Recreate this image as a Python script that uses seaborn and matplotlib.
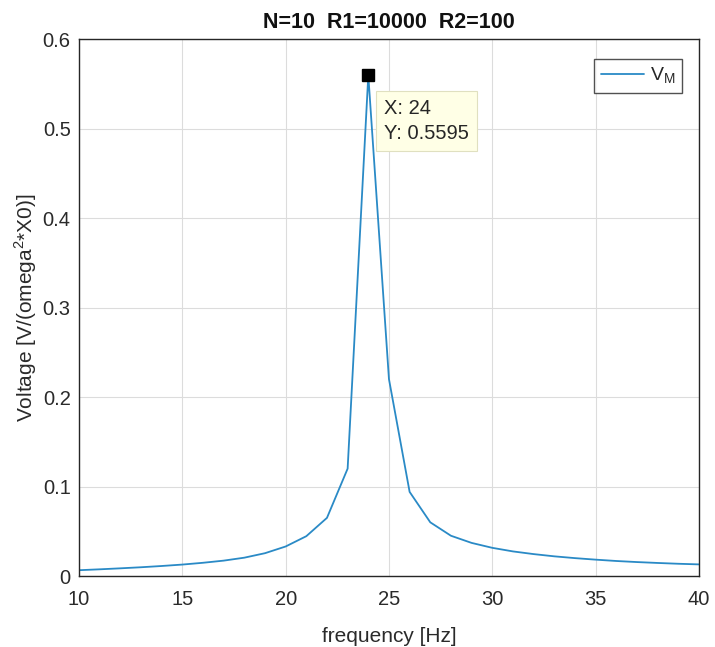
import matplotlib
matplotlib.use("Agg")
import matplotlib.pyplot as plt
import seaborn as sns
import pandas as pd

freq = [10, 11, 12, 13, 14, 15, 16, 17, 18, 19, 20, 21, 22, 23, 24, 25,
        26, 27, 28, 29, 30, 31, 32, 33, 34, 35, 36, 37, 38, 39, 40]
volt = [0.0065, 0.0075, 0.0086, 0.0098, 0.0112, 0.0128, 0.0148, 0.0172, 0.0205,
        0.0255, 0.0330, 0.0445, 0.0650, 0.1200, 0.5595, 0.2200, 0.0940, 0.0600,
        0.0450, 0.0370, 0.0315, 0.0275, 0.0245, 0.0220, 0.0200, 0.0183, 0.0168,
        0.0156, 0.0146, 0.0137, 0.0130]
tip_x = 24
tip_y = 0.5595

sns.set_theme(style="whitegrid")
plt.rcParams['font.family'] = ['Liberation Sans', 'DejaVu Sans']
plt.rcParams['mathtext.fontset'] = 'custom'
plt.rcParams['mathtext.rm'] = 'Liberation Sans'

df = pd.DataFrame({"freq": freq, "volt": volt})

fig = plt.figure(figsize=(7.15, 6.47), dpi=100)
ax = fig.add_axes([0.1105, 0.1097, 0.867, 0.830])
sns.lineplot(data=df, x="freq", y="volt", ax=ax, color="#2a8ac6", linewidth=1.3,
             label=r"V$_\mathrm{M}$")

ax.set_xlim(10, 40)
ax.set_ylim(0, 0.6)
ax.set_xticks([10, 15, 20, 25, 30, 35, 40])
ax.set_yticks([0, 0.1, 0.2, 0.3, 0.4, 0.5, 0.6])
ax.set_yticklabels(["0", "0.1", "0.2", "0.3", "0.4", "0.5", "0.6"])
ax.tick_params(direction="in", length=5, width=1, colors="#262626", labelsize=14.5,
               labelcolor="#2a2a2a")
ax.tick_params(axis='x', pad=10)
ax.tick_params(axis='y', pad=6)
ax.grid(True, color="#dcdcdc", linewidth=0.8)
for s in ax.spines.values():
    s.set_color("#262626")
    s.set_linewidth(1.0)
    s.set_visible(True)

ax.set_xlabel("frequency [Hz]", fontsize=15, color="#2a2a2a", labelpad=13)
ax.set_ylabel(r"Voltage [V/(omega$^\mathrm{2}$*X0)]", fontsize=15, color="#2a2a2a", labelpad=3)
ax.set_title("N=10  R1=10000  R2=100", fontsize=15.5, fontweight="bold", color="#111111", pad=8)

leg = ax.legend(loc="upper right", bbox_to_anchor=(0.9726, 0.9628), fontsize=14,
                frameon=True, fancybox=False, edgecolor="#262626", handlelength=2.2,
                borderpad=0.35, handletextpad=0.3, borderaxespad=0)
leg.get_frame().set_linewidth(1.0)

ax.plot([tip_x], [tip_y], marker="s", color="black", markersize=9, zorder=5)
ax.annotate(f"X: {tip_x}\nY: {tip_y}", xy=(tip_x, tip_y), xytext=(24.76, 0.5084),
            fontsize=14.5, color="#262626", va="center", ha="left", linespacing=1.35,
            bbox=dict(boxstyle="square,pad=0.42", fc="#ffffe6", ec="#e0e0c0", lw=0.8),
            zorder=6)

fig.savefig("out.png", dpi=100)
